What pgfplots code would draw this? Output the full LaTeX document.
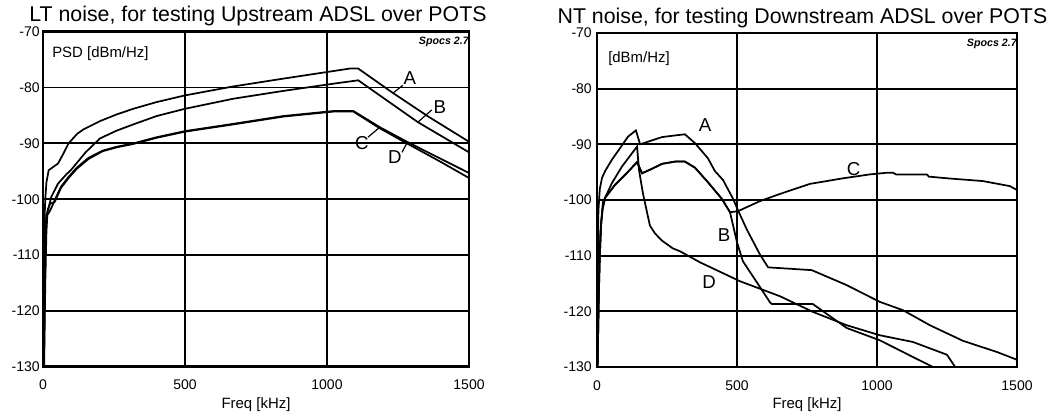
\documentclass[border=0pt]{standalone}
\usepackage{pgfplots}
\pgfplotsset{compat=1.18}
\usepackage{fontspec}
\setmainfont{Liberation Sans}

\begin{document}
\begin{tikzpicture}
\useasboundingbox (0pt,0pt) rectangle (796.5pt,312.75pt);
\pgfplotsset{
  noiseax/.style={
    scale only axis,
    anchor=south west,
    xmin=0, xmax=1500, ymin=-130, ymax=-70,
    xtick={0,500,1000,1500},
    ytick={-130,-120,-110,-100,-90,-80,-70},
    major tick length=0pt,
    grid=major,
    major grid style={black, line width=1.4pt},
    axis line style={black, line width=2.2pt},
    cycle list={{black}},
    every axis plot/.append style={black, line width=1.3pt, no marks},
    /pgf/number format/assume math mode=true,
    /pgf/number format/1000 sep={},
    tick label style={font=\fontsize{10.5}{12}\selectfont, inner sep=0pt},
    xticklabel style={anchor=base, yshift=-17.25pt},
    xlabel={Freq [kHz]},
    xlabel style={font=\fontsize{11.2}{13}\selectfont, at={(axis description cs:0.5,0)}, anchor=base, yshift=-31.1pt},
    title style={font=\fontsize{16}{19}\selectfont, anchor=base, at={(axis description cs:0.5,1)}, yshift=1.3pt},
    clip=true,
  },
}

% ---------------- Left: LT noise ----------------
\begin{axis}[noiseax,
  at={(32.25pt,37.7pt)}, width=319.5pt, height=251.25pt,
  yticklabel style={anchor=east, xshift=-2.25pt},
  title={LT noise, for testing Upstream ADSL over POTS},
  title style={xshift=1.5pt},
]
% A
\addplot coordinates {(1,-130)(3,-112)(5,-104)(8,-100)(12,-97)(20,-94.8)(53,-93.6)(70,-92)(90,-90)(120,-88.3)(142,-87.5)(201,-86.0)(260,-84.8)(318,-83.8)(400,-82.6)(500,-81.4)(670,-79.8)(846,-78.4)(1080,-76.6)(1110,-76.6)(1233,-81)(1360,-85.3)(1500,-89.7)};
% B
\addplot coordinates {(2,-130)(5,-115)(8,-106)(12,-103)(20,-101.5)(29,-99.6)(53,-97.2)(83,-95.5)(98,-94.8)(150,-91.6)(201,-89.1)(260,-87.7)(318,-86.6)(400,-85.1)(500,-83.8)(670,-82.0)(846,-80.6)(1023,-79.3)(1110,-78.7)(1320,-86.2)(1500,-91.6)};
% C
\addplot coordinates {(3,-130)(6,-118)(9,-108)(12,-103)(20,-102.5)(30,-101.5)(41,-100.2)(63,-97.8)(90,-96)(120,-94.3)(160,-92.6)(210,-91.3)(260,-90.6)(318,-90)(400,-88.9)(500,-87.8)(670,-86.5)(846,-85.1)(1023,-84.2)(1093,-84.2)(1186,-87.1)(1285,-89.8)(1500,-95.3)};
% D
\addplot coordinates {(4,-130)(8,-115)(12,-106)(16,-102)(25,-100.8)(41,-100.5)(63,-98)(90,-96.2)(120,-94.5)(160,-92.8)(210,-91.4)(260,-90.7)(318,-90.1)(400,-89)(500,-87.9)(670,-86.6)(846,-85.2)(1023,-84.3)(1093,-84.3)(1186,-87.3)(1285,-90.1)(1400,-93.3)(1500,-96.2)};
\node[font=\fontsize{14}{16}\selectfont, inner sep=0pt] at (axis cs:1292,-78.3) {A};
\draw[line width=0.9pt] (axis cs:1267,-79.6) -- (axis cs:1232,-81);
\node[font=\fontsize{14}{16}\selectfont, inner sep=0pt] at (axis cs:1397,-83.5) {B};
\draw[line width=0.9pt] (axis cs:1369,-84.0) -- (axis cs:1320,-86.2);
\node[font=\fontsize{14}{16}\selectfont, inner sep=0pt] at (axis cs:1123,-89.9) {C};
\draw[line width=0.9pt] (axis cs:1144,-88.9) -- (axis cs:1186,-87.1);
\node[font=\fontsize{14}{16}\selectfont, inner sep=0pt] at (axis cs:1239,-92.5) {D};
\draw[line width=0.9pt] (axis cs:1264,-91.6) -- (axis cs:1285,-89.6);
\node[anchor=west, inner sep=0pt, font=\fontsize{11.2}{13}\selectfont] at ([xshift=6.75pt, yshift=-16.3pt]rel axis cs:0,1) {PSD [dBm/Hz]};
\node[anchor=north east, inner sep=0pt, font=\fontsize{8}{9}\selectfont\bfseries\itshape] at ([yshift=-4pt]rel axis cs:1,1) {Spocs 2.7};
\end{axis}

% ---------------- Right: NT noise ----------------
\begin{axis}[noiseax,
  at={(447.75pt,37.5pt)}, width=315pt, height=250.5pt,
  yticklabel style={anchor=east, xshift=-3.75pt},
  title={NT noise, for testing Downstream ADSL over POTS},
  title style={xshift=-3.4pt},
]
% A
\addplot coordinates {(1,-130)(3,-112)(5,-102)(10,-98)(18,-96)(29,-94.8)(54,-92.7)(82,-90.7)(111,-88.6)(139,-87.5)(154,-90)(196,-89.3)(232,-88.7)(279,-88.4)(314,-88.2)(350,-89.8)(396,-92.5)(421,-94.8)(450,-96.4)(486,-99.8)(504,-101.9)(535,-105.3)(582,-109.8)(611,-112.1)(767,-112.6)(892,-115.3)(1010,-118.3)(1093,-119.8)(1189,-122.5)(1307,-125.3)(1428,-127.3)(1500,-128.7)};
% B
\addplot coordinates {(2,-130)(6,-118)(10,-110)(15,-104)(20,-101.6)(29,-99.6)(64,-97.3)(100,-95.5)(143,-93.2)(161,-95.2)(196,-94.4)(232,-93.5)(279,-93.1)(314,-93.1)(350,-94.2)(396,-96.8)(446,-99.8)(475,-102.2)(500,-107.6)(521,-111)(571,-114.8)(618,-118.4)(625,-118.7)(771,-118.7)(892,-123)(1010,-125.2)(1128,-128.2)(1200,-130)};
% C
\addplot coordinates {(2,-130)(6,-118)(10,-110)(15,-104)(20,-101.6)(29,-99.6)(64,-97.3)(100,-95.5)(143,-93.2)(161,-95.2)(196,-94.4)(232,-93.5)(279,-93.1)(314,-93.1)(350,-94.2)(396,-96.8)(446,-99.8)(475,-102.2)(504,-102)(582,-100.2)(654,-98.9)(761,-97.1)(879,-96.1)(975,-95.4)(1036,-95.1)(1057,-95.1)(1068,-95.4)(1178,-95.4)(1185,-95.8)(1250,-96.1)(1378,-96.6)(1474,-97.5)(1500,-98.2)};
% D
\addplot coordinates {(2,-130)(5,-120)(8,-112)(12,-106)(21,-100.4)(54,-96.9)(89,-94)(125,-91.6)(143,-90.4)(150,-94.6)(164,-98.8)(182,-103)(189,-104.6)(207,-106)(232,-107.3)(271,-108.7)(296,-109.2)(368,-111.2)(511,-114.6)(654,-117.3)(771,-120.1)(892,-122.5)(1010,-124.3)(1128,-125.5)(1250,-127.8)(1279,-130)};
\node[font=\fontsize{14}{16}\selectfont, inner sep=0pt] at (axis cs:386,-86.6) {A};
\node[font=\fontsize{14}{16}\selectfont, inner sep=0pt] at (axis cs:454,-106.3) {B};
\node[font=\fontsize{14}{16}\selectfont, inner sep=0pt] at (axis cs:916,-94.5) {C};
\node[font=\fontsize{14}{16}\selectfont, inner sep=0pt] at (axis cs:400,-114.8) {D};
\node[anchor=west, inner sep=0pt, font=\fontsize{11.2}{13}\selectfont] at ([xshift=8.25pt, yshift=-19pt]rel axis cs:0,1) {[dBm/Hz]};
\node[anchor=north east, inner sep=0pt, font=\fontsize{8}{9}\selectfont\bfseries\itshape] at ([yshift=-4pt]rel axis cs:1,1) {Spocs 2.7};
\end{axis}
\end{tikzpicture}
\end{document}
